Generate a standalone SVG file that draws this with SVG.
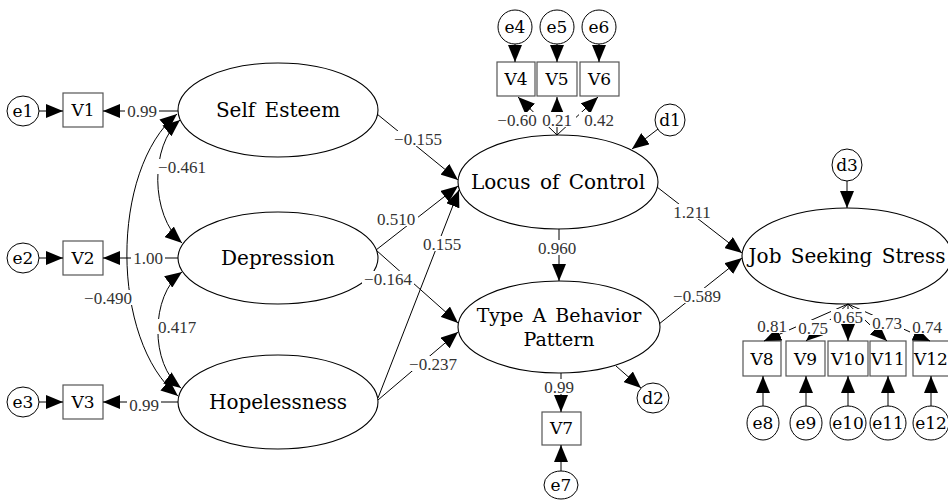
<svg xmlns="http://www.w3.org/2000/svg" width="948" height="501" viewBox="0 0 948 501">
<defs>
<marker id="ah" viewBox="0 0 17 14" refX="17" refY="7" markerWidth="17" markerHeight="14" markerUnits="userSpaceOnUse" orient="auto-start-reverse"><path d="M0,0L17,7L0,14z" fill="#000"/></marker>
<style>
.ell{fill:#fff;stroke:#000;stroke-width:1.1}
.box{fill:#fff;stroke:#555;stroke-width:1.2}
.cir{fill:#fff;stroke:#000;stroke-width:1}
.t{font-family:"DejaVu Serif","Liberation Serif",serif;font-size:20px;text-anchor:middle;fill:#000;word-spacing:3px}
.t2{font-family:"DejaVu Serif","Liberation Serif",serif;font-size:19px;text-anchor:middle;fill:#000;word-spacing:3px}
.s{font-family:"DejaVu Serif","Liberation Serif",serif;font-size:17px;text-anchor:middle;fill:#000}
.n{font-family:"Liberation Serif","Times New Roman",serif;font-size:17px;text-anchor:middle;fill:#333}
.bg{fill:#fff}
.c{fill:none;stroke:#000;stroke-width:1;marker-end:url(#ah)}
.cv{fill:none;stroke:#000;stroke-width:1;marker-start:url(#ah);marker-end:url(#ah)}
</style>
</defs>
<rect x="0" y="0" width="948" height="501" fill="#fff"/>

<!-- latent nodes -->
<g id="selfEsteem"><ellipse class="ell" cx="278" cy="110" rx="100" ry="47"/><text class="t" x="278" y="117">Self Esteem</text></g>
<g id="depression"><ellipse class="ell" cx="278" cy="258" rx="100" ry="46"/><text class="t" x="278" y="265">Depression</text></g>
<g id="hopelessness"><ellipse class="ell" cx="278" cy="402" rx="100" ry="47"/><text class="t" x="278" y="409">Hopelessness</text></g>
<g id="locus"><ellipse class="ell" cx="558" cy="182" rx="100" ry="47"/><text class="t" x="558" y="189">Locus of Control</text></g>
<g id="typeA"><ellipse class="ell" cx="559" cy="327" rx="101" ry="46"/><text class="t2" x="559" y="322">Type A Behavior</text><text class="t2" x="559" y="346">Pattern</text></g>
<g id="jss"><ellipse class="ell" cx="847" cy="256" rx="105" ry="48"/><text class="t" x="847" y="263">Job Seeking Stress</text></g>

<!-- observed nodes -->
<g id="V1"><rect class="box" x="63" y="93" width="40" height="34"/><text class="s" x="83" y="116">V1</text></g>
<g id="V2"><rect class="box" x="63" y="241" width="40" height="34"/><text class="s" x="83" y="264">V2</text></g>
<g id="V3"><rect class="box" x="63" y="385" width="40" height="34"/><text class="s" x="83" y="408">V3</text></g>
<g id="V4"><rect class="box" x="497" y="62" width="38" height="34"/><text class="s" x="516" y="85">V4</text></g>
<g id="V5"><rect class="box" x="537" y="62" width="40" height="34"/><text class="s" x="557" y="85">V5</text></g>
<g id="V6"><rect class="box" x="580" y="62" width="39" height="34"/><text class="s" x="599.5" y="85">V6</text></g>
<g id="V7"><rect class="box" x="542" y="412" width="39" height="33"/><text class="s" x="561.5" y="434">V7</text></g>
<g id="V8"><rect class="box" x="743" y="341" width="38" height="35"/><text class="s" x="762" y="365">V8</text></g>
<g id="V9"><rect class="box" x="786" y="341" width="39" height="35"/><text class="s" x="805.5" y="365">V9</text></g>
<g id="V10"><rect class="box" x="828" y="341" width="40" height="35"/><text class="s" x="848" y="365">V10</text></g>
<g id="V11"><rect class="box" x="870" y="341" width="36" height="35"/><text class="s" x="888" y="365">V11</text></g>
<g id="V12"><rect class="box" x="913" y="341" width="38" height="35"/><text class="s" x="931" y="365">V12</text></g>

<!-- error / disturbance nodes -->
<g id="e1"><ellipse class="cir" cx="23" cy="111" rx="16" ry="15"/><text class="s" x="23" y="117">e1</text></g>
<g id="e2"><ellipse class="cir" cx="23" cy="258" rx="16" ry="15"/><text class="s" x="23" y="264">e2</text></g>
<g id="e3"><ellipse class="cir" cx="23" cy="402" rx="16" ry="15"/><text class="s" x="23" y="408">e3</text></g>
<g id="e4"><ellipse class="cir" cx="515" cy="27" rx="17" ry="17"/><text class="s" x="515" y="33">e4</text></g>
<g id="e5"><ellipse class="cir" cx="557" cy="27" rx="17" ry="17"/><text class="s" x="557" y="33">e5</text></g>
<g id="e6"><ellipse class="cir" cx="599" cy="27" rx="17" ry="17"/><text class="s" x="599" y="33">e6</text></g>
<g id="e7"><ellipse class="cir" cx="561" cy="485" rx="17" ry="14"/><text class="s" x="561" y="491">e7</text></g>
<g id="e8"><ellipse class="cir" cx="763" cy="423" rx="16" ry="17"/><text class="s" x="763" y="429">e8</text></g>
<g id="e9"><ellipse class="cir" cx="806" cy="423" rx="16" ry="17"/><text class="s" x="806" y="429">e9</text></g>
<g id="e10"><ellipse class="cir" cx="848" cy="423" rx="18" ry="17"/><text class="s" x="848" y="429">e10</text></g>
<g id="e11"><ellipse class="cir" cx="888" cy="423" rx="18" ry="17"/><text class="s" x="888" y="429">e11</text></g>
<g id="e12"><ellipse class="cir" cx="931" cy="423" rx="18" ry="17"/><text class="s" x="931" y="429">e12</text></g>
<g id="d1"><ellipse class="cir" cx="670" cy="120" rx="15" ry="16"/><text class="s" x="670" y="126">d1</text></g>
<g id="d2"><ellipse class="cir" cx="653" cy="398" rx="16" ry="15"/><text class="s" x="653" y="404">d2</text></g>
<g id="d3"><ellipse class="cir" cx="847" cy="165" rx="15" ry="16"/><text class="s" x="847" y="171">d3</text></g>

<!-- connectors -->
<g id="connectors">
<path class="c" d="M39,111H63"/>
<path class="c" d="M39,258H63"/>
<path class="c" d="M39,402H63"/>
<path class="c" d="M178,111H103"/>
<path class="c" d="M178,258H103"/>
<path class="c" d="M178,402H103"/>
<path class="cv" d="M177,114C110,170 110,340 178,396"/>
<path class="cv" d="M180,120C150,145 150,215 182,243"/>
<path class="cv" d="M182,272C150,295 150,365 181,388"/>
<path class="c" d="M377,114L458,180"/>
<path class="c" d="M376,250L458,186"/>
<path class="c" d="M376,250L458,323"/>
<path class="c" d="M378,398L459,190"/>
<path class="c" d="M378,400L458,332"/>
<path class="c" d="M559,229V281"/>
<path class="c" d="M657,187L742,253"/>
<path class="c" d="M659,324L742,258"/>
<path class="c" d="M658,129L632,149"/>
<path class="c" d="M616,366L641,388"/>
<path class="c" d="M847,181V208"/>
<path class="c" d="M557,135L518,97"/>
<path class="c" d="M557,135V97"/>
<path class="c" d="M557,135L598,97"/>
<path class="c" d="M515,44V62"/>
<path class="c" d="M557,44V62"/>
<path class="c" d="M599,44V62"/>
<path class="c" d="M561,373V412"/>
<path class="c" d="M561,471V445"/>
<path class="c" d="M848,304L764,341"/>
<path class="c" d="M848,304L806,341"/>
<path class="c" d="M848,304V341"/>
<path class="c" d="M848,304L887,341"/>
<path class="c" d="M848,304L930,341"/>
<path class="c" d="M763,406V376"/>
<path class="c" d="M806,406V376"/>
<path class="c" d="M848,406V376"/>
<path class="c" d="M888,406V376"/>
<path class="c" d="M931,406V376"/>
</g>

<!-- coefficient labels -->
<g id="labels">
<rect class="bg" x="125" y="103" width="34" height="15"/><text class="n" x="142" y="116.5">0.99</text>
<rect class="bg" x="131" y="250" width="34" height="15"/><text class="n" x="148" y="263.5">1.00</text>
<rect class="bg" x="127" y="397" width="34" height="15"/><text class="n" x="144" y="410.5">0.99</text>
<rect class="bg" x="157" y="159" width="50" height="15"/><text class="n" x="182" y="172.5">−0.461</text>
<rect class="bg" x="155" y="319" width="44" height="15"/><text class="n" x="177" y="332.5">0.417</text>
<rect class="bg" x="83" y="290" width="50" height="15"/><text class="n" x="108" y="303.5">−0.490</text>
<rect class="bg" x="392" y="131" width="52" height="15"/><text class="n" x="418" y="144.5">−0.155</text>
<rect class="bg" x="374" y="211" width="44" height="15"/><text class="n" x="396" y="224.5">0.510</text>
<rect class="bg" x="362" y="271" width="52" height="15"/><text class="n" x="388" y="284.5">−0.164</text>
<rect class="bg" x="420" y="236" width="44" height="15"/><text class="n" x="442" y="249.5">0.155</text>
<rect class="bg" x="407" y="356" width="52" height="15"/><text class="n" x="433" y="369.5">−0.237</text>
<rect class="bg" x="535" y="240" width="44" height="15"/><text class="n" x="557" y="253.5">0.960</text>
<rect class="bg" x="671" y="204" width="42" height="15"/><text class="n" x="692" y="217.5">1.211</text>
<rect class="bg" x="671" y="288" width="52" height="15"/><text class="n" x="697" y="301.5">−0.589</text>
<rect class="bg" x="495" y="112" width="44" height="15"/><text class="n" x="517" y="125.5">−0.60</text>
<rect class="bg" x="538" y="112" width="38" height="15"/><text class="n" x="557" y="125.5">0.21</text>
<rect class="bg" x="579" y="112" width="40" height="15"/><text class="n" x="599" y="125.5">0.42</text>
<rect class="bg" x="542" y="379" width="34" height="15"/><text class="n" x="559" y="392.5">0.99</text>
<rect class="bg" x="755" y="318" width="34" height="15"/><text class="n" x="772" y="331.5">0.81</text>
<rect class="bg" x="796" y="320" width="34" height="15"/><text class="n" x="813" y="333.5">0.75</text>
<rect class="bg" x="831" y="309" width="34" height="15"/><text class="n" x="848" y="322.5">0.65</text>
<rect class="bg" x="870" y="315" width="34" height="15"/><text class="n" x="887" y="328.5">0.73</text>
<rect class="bg" x="910" y="319" width="34" height="15"/><text class="n" x="927" y="332.5">0.74</text>
</g>
</svg>
